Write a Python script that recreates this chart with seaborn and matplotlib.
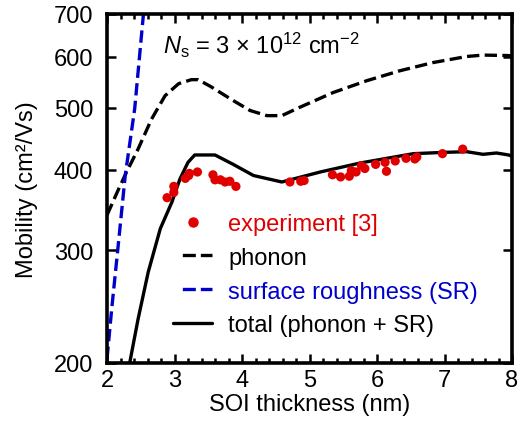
import matplotlib
matplotlib.use("Agg")
import matplotlib.pyplot as plt
import seaborn as sns
import pandas as pd
from matplotlib.ticker import FixedLocator, MultipleLocator, NullLocator, FixedFormatter
from matplotlib.lines import Line2D

# ---- data ----
phonon_x = [2.0, 2.17, 2.29, 2.46, 2.66, 2.86, 3.06, 3.25, 3.35, 3.53, 3.87, 4.12, 4.37,
            4.59, 4.86, 5.35, 5.85, 6.34, 6.83, 7.33, 7.57, 7.94, 8.0]
phonon_y = [340, 373, 397, 431, 480, 522, 545, 553, 553, 540, 513, 495, 486,
            486, 501, 528, 551, 571, 588, 601, 604, 603, 602]

sr_x = [2.0, 2.07, 2.17, 2.27, 2.41, 2.54, 2.6]
sr_y = [203, 243, 308, 392, 498, 700, 790]

total_x = [2.32, 2.46, 2.61, 2.79, 2.96, 3.08, 3.20, 3.30, 3.40, 3.60, 3.87, 4.17, 4.59,
           5.16, 5.75, 6.54, 7.0, 7.33, 7.57, 7.77, 7.95, 8.0]
total_y = [196, 234, 277, 324, 356, 387, 411, 422, 422, 422, 408, 392, 383,
           397, 410, 424, 426, 427, 423, 425, 422, 420]

exp_x = [2.89, 2.99, 2.99, 3.16, 3.21, 3.22, 3.34, 3.57, 3.60, 3.68, 3.75, 3.82, 3.91,
         4.71, 4.87, 4.92, 5.34, 5.46, 5.59, 5.62, 5.69, 5.77, 5.82, 5.98, 6.12, 6.14,
         6.27, 6.43, 6.56, 6.59, 6.97, 7.27]
exp_y = [362, 369, 377, 388, 392, 395, 397, 393, 386, 386, 383, 384, 377,
         383, 384, 385, 393, 390, 391, 399, 397, 406, 402, 408, 411, 398,
         413, 417, 416, 419, 424, 431]

y_ticks = [200, 300, 400, 500, 600, 700]
x_ticks = [2, 3, 4, 5, 6, 7, 8]

sns.set_style("ticks")
plt.rcParams['font.family'] = ['Liberation Sans', 'DejaVu Sans']
plt.rcParams['mathtext.fontset'] = 'custom'
plt.rcParams['mathtext.rm'] = 'Liberation Sans'
plt.rcParams['mathtext.it'] = 'Liberation Sans:italic'
for k in ['text.color', 'axes.labelcolor', 'xtick.color', 'ytick.color', 'axes.edgecolor']:
    plt.rcParams[k] = 'black'
plt.rcParams['axes.axisbelow'] = False

fig = plt.figure(figsize=(5.24, 4.31), dpi=100)
ax = fig.add_axes([0.2042, 0.1555, 0.7729, 0.8097])

lw = 2.4
fs = 17
red = '#e00000'
blue = '#0000cc'
dash = (0, (3.7, 1.6))

ph = pd.DataFrame({'x': phonon_x, 'y': phonon_y})
sr = pd.DataFrame({'x': sr_x, 'y': sr_y})
tot = pd.DataFrame({'x': total_x, 'y': total_y})
ex = pd.DataFrame({'x': exp_x, 'y': exp_y})

sns.lineplot(data=ph, x='x', y='y', ax=ax, color='black', lw=lw, sort=False, linestyle=dash)
sns.lineplot(data=sr, x='x', y='y', ax=ax, color=blue, lw=lw, sort=False, linestyle=dash)
sns.lineplot(data=tot, x='x', y='y', ax=ax, color='black', lw=lw, sort=False)
sns.scatterplot(data=ex, x='x', y='y', ax=ax, color=red, s=44, edgecolor='none', zorder=5)

ax.set_yscale('log')
ax.set_xlim(2, 8)
ax.set_ylim(200, 700)
ax.yaxis.set_major_locator(FixedLocator(y_ticks))
ax.yaxis.set_major_formatter(FixedFormatter([str(v) for v in y_ticks]))
ax.yaxis.set_minor_locator(NullLocator())
ax.xaxis.set_major_locator(FixedLocator(x_ticks))
ax.xaxis.set_minor_locator(MultipleLocator(0.2))

for s in ax.spines.values():
    s.set_linewidth(2.6)
    s.set_color('black')
ax.tick_params(which='both', direction='in', top=True, right=True, labelsize=fs,
               width=1.8, color='black', labelcolor='black')
ax.tick_params(which='major', length=6.5)
ax.tick_params(which='minor', length=3.8)
ax.tick_params(axis='y', which='major', pad=10)
ax.tick_params(axis='x', which='major', pad=4)

ax.set_xlabel('SOI thickness (nm)', fontsize=fs, labelpad=2)
ax.set_ylabel('Mobility (cm²/Vs)', fontsize=fs, labelpad=11)

ax.text(2.83, 628, r'$N_\mathrm{s}$ = 3 × 10$^{12}$ cm$^{-2}$', fontsize=fs, va='center', ha='left')

leg_dash = (9.3, (3.9, 1.5, 3.9, 2.8))
handles = [
    Line2D([], [], marker='o', color=red, ls='none', markersize=6.5),
    Line2D([], [], color='black', lw=lw, ls=leg_dash),
    Line2D([], [], color=blue, lw=lw, ls=leg_dash),
    Line2D([], [], color='black', lw=lw),
]
labels = ['experiment [3]', 'phonon', 'surface roughness (SR)', 'total (phonon + SR)']
leg = ax.legend(handles, labels, loc='upper left', bbox_to_anchor=(0.14, 0.457),
                frameon=False, fontsize=fs, handlelength=1.65, handletextpad=0.68,
                labelspacing=0.5, borderaxespad=0)
cols = [red, 'black', blue, 'black']
for t, c in zip(leg.get_texts(), cols):
    t.set_color(c)

fig.savefig('out.png', dpi=100)
